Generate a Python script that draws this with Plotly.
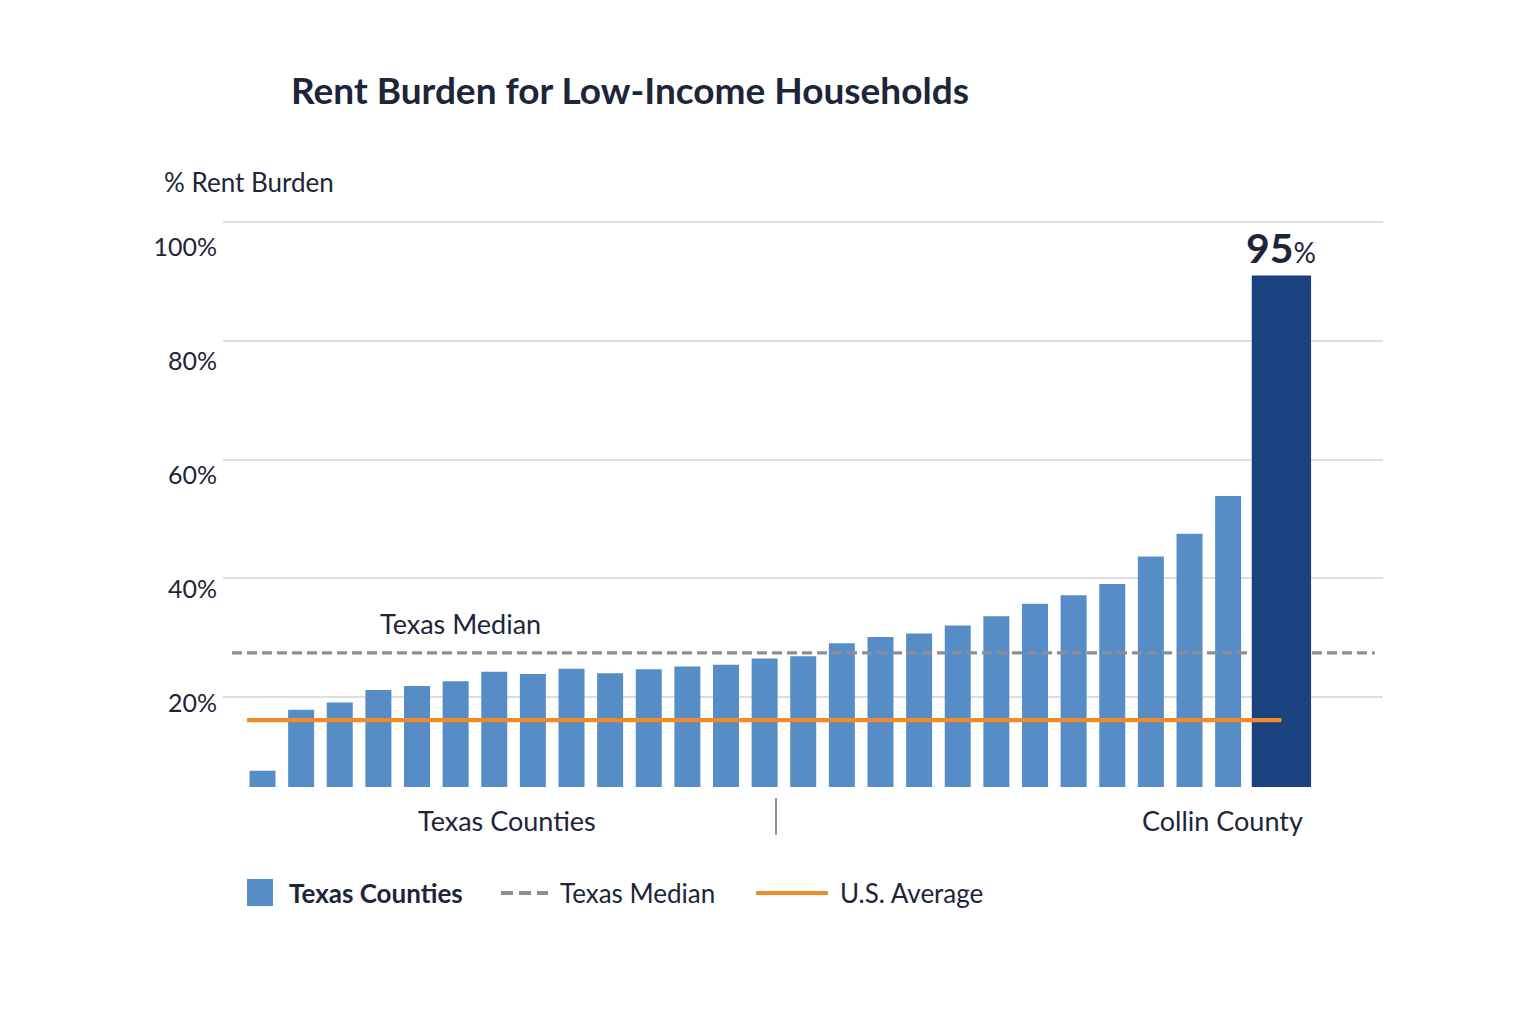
import plotly.graph_objects as go

# ---------------- data ----------------
county_names = [f"Texas County {i}" for i in range(1, 27)]
county_values = [8.1, 18.8, 20.1, 22.3, 23.0, 23.8, 25.5, 25.1, 26.0, 25.2,
                 25.9, 26.4, 26.7, 27.8, 28.2, 30.5, 31.6, 32.2, 33.6, 35.2,
                 37.4, 38.9, 40.9, 45.7, 49.7, 56.3]
collin_name = "Collin County"
collin_value = 95
texas_median = 28.8
us_average = 17.0
y_tick_values = [20, 40, 60, 80, 100]
y_tick_text = [f"{v}%" for v in y_tick_values]
group_labels = ["Texas Counties", "Collin County"]
legend_labels = ["Texas Counties", "Texas Median", "U.S. Average"]

# ---------------- style ----------------
FONT = "Lato"
TXT = "#1d2539"
LIGHT = "#568dc6"
DARK = "#19427f"
ORANGE = "#f08a2b"
GRAY = "#8b8e98"
GRID = "#dcdee3"

BAR_W = 0.673
COLLIN_W = 1.535
COLLIN_OFF = -0.3875

# page body has an 8px margin; plot area target: x 223..1383, y 220..787 (window px)
PAGE_OFF = 8
W, H = 1520, 1008
L, R_EDGE, T, B_EDGE = 223, 1383, 220, 787
PW, PH = R_EDGE - L, B_EDGE - T

x_pos = list(range(len(county_values)))
collin_pos = len(county_values)
collin_center = collin_pos + COLLIN_OFF + COLLIN_W / 2


def px(xp):
    return (xp - L) / PW


def py(yp):
    return (B_EDGE - yp) / PH


fig = go.Figure()

fig.add_trace(go.Bar(
    x=x_pos, y=county_values, width=BAR_W, marker_color=LIGHT,
    marker_line_width=0, hovertext=county_names, name=legend_labels[0],
    showlegend=False, zorder=0))

fig.add_trace(go.Scatter(
    x=[-0.79, 28.8], y=[texas_median, texas_median], mode="lines",
    line=dict(color=GRAY, width=3.4, dash="10px,5px"),
    name=legend_labels[1], showlegend=False, zorder=1))

fig.add_trace(go.Bar(
    x=[collin_pos], y=[collin_value], width=COLLIN_W, offset=COLLIN_OFF,
    marker_color=DARK, marker_line_width=0, hovertext=[collin_name],
    name=collin_name, showlegend=False, zorder=2))

fig.add_trace(go.Scatter(
    x=[-0.40, collin_center], y=[us_average, us_average], mode="lines",
    line=dict(color=ORANGE, width=4.2),
    name=legend_labels[2], showlegend=False, zorder=3))

# invisible trace carrying the gridline axis
fig.add_trace(go.Scatter(x=[None], y=[None], yaxis="y2", mode="lines",
                         showlegend=False, hoverinfo="skip"))

annotations = [
    dict(text="Rent Burden for Low-Income Households", xref="paper", yref="paper",
         x=px(289), y=py(90), xanchor="left", yanchor="middle",
         showarrow=False, font=dict(family=FONT, size=37, color=TXT, weight=700)),
    dict(text="% Rent Burden", xref="paper", yref="paper",
         x=px(162), y=py(182), xanchor="left", yanchor="middle",
         showarrow=False, font=dict(family=FONT, size=26, color=TXT)),
    dict(text=legend_labels[1], xref="x", yref="y", x=2.98, y=texas_median,
         yshift=29, xanchor="left", yanchor="middle", showarrow=False,
         font=dict(family=FONT, size=27, color=TXT)),
    dict(text=f"<b>{collin_value}</b><span style='font-size:28px'>%</span>",
         xref="x", yref="y", x=collin_center, y=collin_value, yanchor="bottom",
         xanchor="center", yshift=2, showarrow=False,
         font=dict(family=FONT, size=41, color=TXT)),
    dict(text=group_labels[0], xref="x", yref="paper", x=6.33, y=py(821),
         xanchor="center", yanchor="middle", showarrow=False,
         font=dict(family=FONT, size=27, color=TXT)),
    dict(text=group_labels[1], xref="x", yref="paper", x=24.85, y=py(821),
         xanchor="center", yanchor="middle", showarrow=False,
         font=dict(family=FONT, size=27, color=TXT)),
]

LEG_Y = py(893)
legend_text_x = [287, 558, 838]
for i, lab in enumerate(legend_labels):
    annotations.append(dict(
        text=(f"<b>{lab}</b>" if i == 0 else lab), xref="paper", yref="paper",
        x=px(legend_text_x[i]), y=LEG_Y, xanchor="left", yanchor="middle",
        showarrow=False, font=dict(family=FONT, size=26, color=TXT)))

shapes = [
    # separator tick between groups
    dict(type="line", xref="paper", yref="paper", x0=px(776), x1=px(776),
         y0=py(798), y1=py(835), line=dict(color="#6b6f78", width=1.5)),
    # legend swatches
    dict(type="rect", xref="paper", yref="paper", x0=px(247), x1=px(273),
         y0=py(906), y1=py(879), fillcolor=LIGHT, line=dict(width=0)),
    dict(type="line", xref="paper", yref="paper", x0=px(501), x1=px(548),
         y0=LEG_Y, y1=LEG_Y, line=dict(color=GRAY, width=4, dash="12px,6px")),
    dict(type="line", xref="paper", yref="paper", x0=px(756), x1=px(828),
         y0=LEG_Y, y1=LEG_Y, line=dict(color=ORANGE, width=4)),
]

fig.update_layout(
    width=W, height=H,
    margin=dict(l=L - PAGE_OFF, r=W - (R_EDGE - PAGE_OFF),
                t=T - PAGE_OFF, b=H - (B_EDGE - PAGE_OFF)),
    paper_bgcolor="#ffffff", plot_bgcolor="rgba(0,0,0,0)",
    barmode="overlay", showlegend=False,
    font=dict(family=FONT, color=TXT),
    xaxis=dict(range=[-1.023, 29.01], showticklabels=False, showgrid=False,
               zeroline=False, showline=True, linecolor="#1a1f2e", linewidth=2,
               ticks="", fixedrange=True),
    yaxis=dict(range=[5.263, 104.74], tickmode="array", tickvals=y_tick_values,
               ticktext=y_tick_text, showgrid=False, zeroline=False,
               showline=False, ticks="", ticklabelstandoff=5,
               tickfont=dict(family=FONT, size=25, color=TXT)),
    yaxis2=dict(overlaying="y", range=[4.88, 100.34], tick0=0, dtick=20,
                showgrid=True, gridcolor=GRID, gridwidth=1.5, showticklabels=False,
                zeroline=False, showline=False, ticks="", side="right"),
    annotations=annotations,
    shapes=shapes,
)

fig.write_html("out.html")
